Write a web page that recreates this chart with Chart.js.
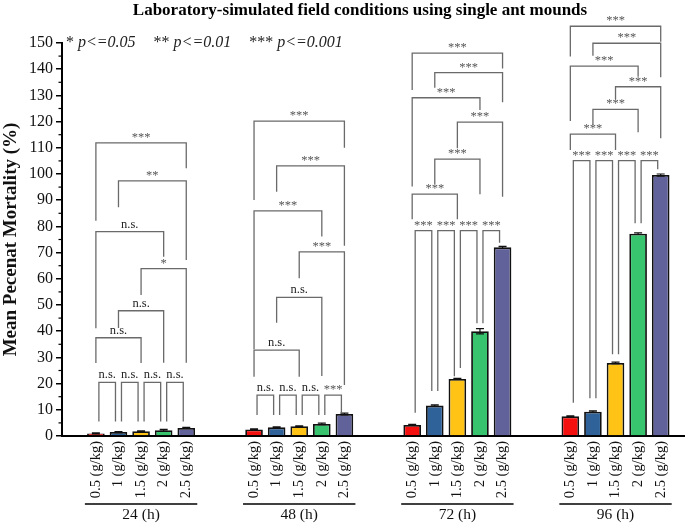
<!DOCTYPE html>
<html>
<head>
<meta charset="utf-8">
<script src="https://cdn.jsdelivr.net/npm/chart.js@4.4.1/dist/chart.umd.min.js"></script>
<style>
  body { margin: 0; background: #fff; }
  #wrap { width: 685px; height: 524px; }
</style>
</head>
<body>
<div id="wrap"><canvas id="mortality"></canvas></div>
<script>
// Exposure times (groups) and bait doses (bars inside a group).
const groups = ['24 (h)', '48 (h)', '72 (h)', '96 (h)'];
const doses = ['0.5 (g/kg)', '1 (g/kg)', '1.5 (g/kg)', '2 (g/kg)', '2.5 (g/kg)'];
const doseColors = ['#f51010', '#2f6299', '#fec315', '#38c46e', '#62629b'];

// Mean mortality (%) per dose, one array per exposure time.
const mortality24 = [1.0, 1.5, 1.8, 2.2, 3.1];
const mortality48 = [2.5, 3.3, 3.7, 4.6, 8.4];
const mortality72 = [4.2, 11.6, 21.8, 40.0, 72.0];
const mortality96 = [7.5, 9.3, 27.9, 77.2, 99.6];

const error24 = [0.2, 0.2, 0.2, 0.3, 0.2];
const error48 = [0.2, 0.2, 0.2, 0.3, 0.3];
const error72 = [0.2, 0.3, 0.2, 1.0, 0.4];
const error96 = [0.2, 0.3, 0.3, 0.3, 0.4];

const yTicks = { min: 0, max: 150, step: 10 };

// Significance brackets: [from dose, to dose, top, left leg end, right leg end, label]
const brackets24 = [
  [0, 1, 20.5, 5.5, 5.5, 'n.s.'],
  [1, 2, 20.5, 5.5, 5.5, 'n.s.'],
  [2, 3, 20.5, 5.5, 5.5, 'n.s.'],
  [3, 4, 20.5, 5.5, 5.5, 'n.s.'],
  [0, 2, 37.5, 27.9, 27.9, 'n.s.'],
  [1, 3, 47.8, 41.2, 28.0, 'n.s.'],
  [2, 4, 63.9, 53.8, 28.0, '*'],
  [0, 3, 78.0, 41.1, 68.4, 'n.s.'],
  [1, 4, 97.4, 87.3, 67.2, '**'],
  [0, 4, 111.9, 82.2, 102.2, '***']
];
const brackets48 = [
  [0, 1, 15.6, 8.0, 8.0, 'n.s.'],
  [1, 2, 15.6, 8.0, 8.0, 'n.s.'],
  [2, 3, 15.6, 8.0, 8.0, 'n.s.'],
  [3, 4, 15.6, 8.0, 8.8, '***'],
  [0, 2, 32.8, 22.6, 22.6, 'n.s.'],
  [1, 3, 52.9, 43.2, 22.9, 'n.s.'],
  [2, 4, 70.3, 60.2, 19.5, '***'],
  [0, 3, 85.9, 33.1, 76.1, '***'],
  [1, 4, 103.1, 93.2, 72.6, '***'],
  [0, 4, 120.2, 90.1, 110.0, '***']
];
const brackets72 = [
  [0, 1, 78.4, 8.9, 17.2, '***'],
  [1, 2, 78.4, 17.2, 22.8, '***'],
  [2, 3, 78.4, 26.0, 43.0, '***'],
  [3, 4, 78.4, 43.0, 73.8, '***'],
  [0, 2, 92.3, 82.7, 82.7, '***'],
  [1, 3, 105.7, 96.2, 92.3, '***'],
  [2, 4, 119.8, 109.8, 91.3, '***'],
  [0, 3, 129.1, 95.2, 124.4, '***'],
  [1, 4, 138.7, 132.9, 127.4, '***'],
  [0, 4, 146.1, 132.1, 140.3, '***']
];
const brackets96 = [
  [0, 1, 105.1, 12.7, 14.4, '***'],
  [1, 2, 105.1, 14.4, 31.2, '***'],
  [2, 3, 105.1, 31.2, 81.2, '***'],
  [3, 4, 105.1, 81.2, 101.8, '***'],
  [0, 2, 115.2, 109.2, 109.2, '***'],
  [1, 3, 124.7, 118.7, 115.9, '***'],
  [2, 4, 133.3, 128.5, 113.6, '***'],
  [0, 3, 141.2, 120.2, 137.1, '***'],
  [1, 4, 149.9, 145.1, 136.9, '***'],
  [0, 4, 156.4, 144.8, 150.5, '***']
];

const mortality = [mortality24, mortality48, mortality72, mortality96];
const errors = [error24, error48, error72, error96];
const brackets = [brackets24, brackets48, brackets72, brackets96];

// One category slot per bar, one empty slot in front and two between groups.
const SLOTS_PER_GROUP = 7;
function slotOf(g, i) {
  return 1 + g * SLOTS_PER_GROUP + i;
}

let labels = [];
let values = [];
let colors = [];
labels.push('');
values.push(null);
colors.push('#fff');
groups.forEach((grp, g) => {
  if (g > 0) {
    labels.push('', '');
    values.push(null, null);
    colors.push('#fff', '#fff');
  }
  doses.forEach((d, i) => {
    labels.push(d);
    values.push(mortality[g][i]);
    colors.push(doseColors[i]);
  });
});

const serif = '"Liberation Serif", "DejaVu Serif", serif';

// Draws title, p-value legend, error bars, significance brackets and group labels.
const annotate = {
  id: 'annotate',
  afterDatasetsDraw(chart) {
    const ctx = chart.ctx;
    const x = chart.scales.x;
    const y = chart.scales.y;
    ctx.save();

    // error bars
    ctx.strokeStyle = '#111';
    ctx.lineWidth = 1.2;
    mortality.forEach((vals, g) => {
      vals.forEach((v, i) => {
        let cx = x.getPixelForValue(slotOf(g, i));
        let lo = y.getPixelForValue(v - errors[g][i]);
        let hi = y.getPixelForValue(v + errors[g][i]);
        ctx.beginPath();
        ctx.moveTo(cx, lo); ctx.lineTo(cx, hi);
        ctx.moveTo(cx - 4, lo); ctx.lineTo(cx + 4, lo);
        ctx.moveTo(cx - 4, hi); ctx.lineTo(cx + 4, hi);
        ctx.stroke();
      });
    });

    // minor ticks on the y axis
    ctx.strokeStyle = '#000';
    ctx.lineWidth = 1.2;
    for (let v = yTicks.min + yTicks.step / 2; v < yTicks.max; v += yTicks.step) {
      let py = y.getPixelForValue(v);
      ctx.beginPath();
      ctx.moveTo(chart.chartArea.left, py);
      ctx.lineTo(chart.chartArea.left - 3.5, py);
      ctx.stroke();
    }

    // x axis runs to the canvas edge
    ctx.lineWidth = 2;
    ctx.beginPath();
    ctx.moveTo(chart.chartArea.right, chart.chartArea.bottom);
    ctx.lineTo(chart.width, chart.chartArea.bottom);
    ctx.stroke();

    // brackets
    ctx.textAlign = 'center';
    ctx.textBaseline = 'bottom';
    brackets.forEach((list, g) => {
      list.forEach(b => {
        let inset = (b[1] - b[0] === 1) ? 3 : 0;
        let x1 = x.getPixelForValue(slotOf(g, b[0])) + inset;
        let x2 = x.getPixelForValue(slotOf(g, b[1])) - inset;
        let yt = y.getPixelForValue(b[2]);
        ctx.strokeStyle = '#6a6a6a';
        ctx.lineWidth = 1.3;
        ctx.beginPath();
        ctx.moveTo(x1, y.getPixelForValue(b[3]));
        ctx.lineTo(x1, yt);
        ctx.lineTo(x2, yt);
        ctx.lineTo(x2, y.getPixelForValue(b[4]));
        ctx.stroke();
        let isStars = b[5].indexOf('*') === 0;
        ctx.fillStyle = isStars ? '#555' : '#222';
        ctx.font = isStars ? '12.5px ' + serif : '12.5px ' + serif;
        ctx.fillText(b[5], (x1 + x2) / 2, yt - (isStars ? -1 : 1));
      });
    });

    // group underline and label
    ctx.strokeStyle = '#000';
    ctx.lineWidth = 1.5;
    ctx.fillStyle = '#111';
    ctx.font = '15.5px ' + serif;
    ctx.textBaseline = 'middle';
    groups.forEach((grp, g) => {
      let x1 = x.getPixelForValue(slotOf(g, 0)) - 11;
      let x2 = x.getPixelForValue(slotOf(g, doses.length - 1)) + 11;
      ctx.beginPath();
      ctx.moveTo(x1, 504);
      ctx.lineTo(x2, 504);
      ctx.stroke();
      ctx.fillText(grp, (x1 + x2) / 2, 515);
    });

    // title
    ctx.font = 'bold 17px ' + serif;
    ctx.fillStyle = '#000';
    ctx.fillText('Laboratory-simulated field conditions using single ant mounds', 360, 11);

    // p-value legend
    ctx.textAlign = 'left';
    ctx.textBaseline = 'middle';
    ctx.fillStyle = '#222';
    let lx = 66;
    let ly = 43;
    [['*', 'p<=0.05'], ['**', 'p<=0.01'], ['***', 'p<=0.001']].forEach(item => {
      ctx.font = '16px ' + serif;
      ctx.fillText(item[0] + ' ', lx, ly);
      lx += ctx.measureText(item[0] + ' ').width;
      ctx.font = 'italic 16px ' + serif;
      ctx.fillText(item[1], lx, ly);
      lx += ctx.measureText(item[1]).width + 18;
    });

    ctx.restore();
  }
};

new Chart(document.getElementById('mortality'), {
  type: 'bar',
  data: {
    labels: labels,
    datasets: [{
      data: values,
      backgroundColor: colors,
      borderColor: '#111',
      borderWidth: 1.8,
      categoryPercentage: 1.0,
      barPercentage: 0.78
    }]
  },
  options: {
    responsive: true,
    maintainAspectRatio: false,
    animation: false,
    layout: { padding: { top: 43, right: 13, bottom: 0, left: 0 } },
    plugins: {
      legend: { display: false },
      tooltip: { enabled: false }
    },
    scales: {
      x: {
        grid: { display: false, drawTicks: false },
        border: { display: true, color: '#000', width: 2 },
        ticks: {
          autoSkip: false,
          maxRotation: 90,
          minRotation: 90,
          padding: 5,
          color: '#111',
          font: { family: serif, size: 14.5 }
        },
        afterFit: function(scale) { scale.height = 88; }
      },
      y: {
        min: yTicks.min,
        max: yTicks.max,
        grid: { display: true, drawOnChartArea: false, drawTicks: true, tickLength: 6, color: '#000', lineWidth: 1.5 },
        border: { display: true, color: '#000', width: 2 },
        ticks: {
          stepSize: yTicks.step,
          padding: 3,
          color: '#111',
          font: { family: serif, size: 16 }
        },
        title: {
          display: true,
          text: 'Mean Pecenat Mortality (%)',
          color: '#111',
          padding: { top: 0, bottom: 0 },
          font: { family: serif, size: 19, weight: 'bold' }
        },
        afterFit: function(scale) { scale.width = 62; }
      }
    }
  },
  plugins: [annotate]
});
</script>
</body>
</html>
